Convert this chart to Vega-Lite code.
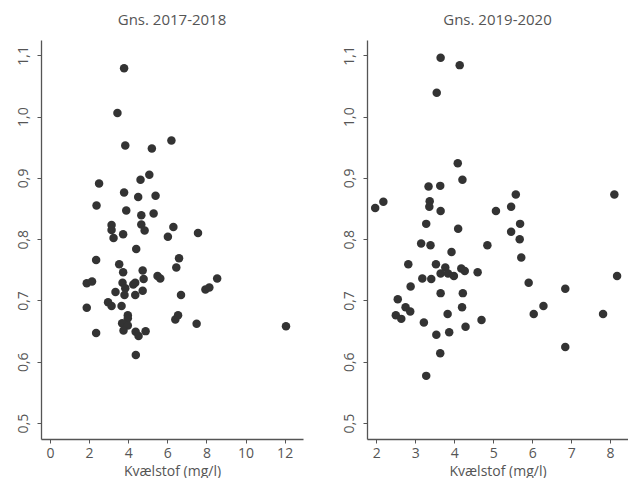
{
  "$schema": "https://vega.github.io/schema/vega-lite/v6.json",
  "padding": {"left": 16, "top": 13, "right": 0, "bottom": 0},
  "spacing": 39,
  "config": {
    "font": "Open Sans",
    "view": {"stroke": null},
    "axis": {
      "grid": false,
      "domainColor": "#555555",
      "domainWidth": 1.3,
      "tickColor": "#555555",
      "tickSize": 4,
      "labelColor": "#555555",
      "labelFontSize": 14,
      "labelPadding": 3,
      "titleColor": "#555555",
      "titleFontSize": 14,
      "titleFontWeight": "normal",
      "titlePadding": 4
    },
    "title": {"fontSize": 15, "fontWeight": "normal", "color": "#555555", "offset": 12}
  },
  "datasets": {
    "a": [
      {"n": 3.79, "v": 1.079}, {"n": 3.45, "v": 1.006}, {"n": 3.85, "v": 0.953}, {"n": 5.21, "v": 0.948},
      {"n": 6.21, "v": 0.961}, {"n": 5.08, "v": 0.905}, {"n": 4.63, "v": 0.897}, {"n": 2.51, "v": 0.891},
      {"n": 3.79, "v": 0.876}, {"n": 4.51, "v": 0.869}, {"n": 5.40, "v": 0.871}, {"n": 2.38, "v": 0.855},
      {"n": 3.90, "v": 0.847}, {"n": 4.67, "v": 0.839}, {"n": 5.30, "v": 0.842}, {"n": 3.15, "v": 0.823},
      {"n": 3.15, "v": 0.815}, {"n": 4.67, "v": 0.824}, {"n": 4.84, "v": 0.814}, {"n": 6.31, "v": 0.820},
      {"n": 3.74, "v": 0.808}, {"n": 3.25, "v": 0.802}, {"n": 6.03, "v": 0.804}, {"n": 7.57, "v": 0.810},
      {"n": 4.41, "v": 0.784}, {"n": 2.36, "v": 0.766}, {"n": 6.60, "v": 0.769}, {"n": 3.54, "v": 0.759},
      {"n": 6.46, "v": 0.754}, {"n": 4.74, "v": 0.749}, {"n": 3.74, "v": 0.746}, {"n": 5.50, "v": 0.740},
      {"n": 5.64, "v": 0.736}, {"n": 4.79, "v": 0.735}, {"n": 8.55, "v": 0.736}, {"n": 1.88, "v": 0.728},
      {"n": 2.15, "v": 0.731}, {"n": 3.71, "v": 0.729}, {"n": 4.26, "v": 0.726}, {"n": 4.36, "v": 0.729},
      {"n": 3.85, "v": 0.720}, {"n": 3.35, "v": 0.714}, {"n": 4.74, "v": 0.716}, {"n": 3.81, "v": 0.709},
      {"n": 4.36, "v": 0.709}, {"n": 6.70, "v": 0.709}, {"n": 7.95, "v": 0.718}, {"n": 8.15, "v": 0.721},
      {"n": 1.88, "v": 0.688}, {"n": 2.97, "v": 0.697}, {"n": 3.15, "v": 0.691}, {"n": 3.66, "v": 0.691},
      {"n": 3.98, "v": 0.676}, {"n": 3.98, "v": 0.671}, {"n": 3.69, "v": 0.663}, {"n": 3.98, "v": 0.659},
      {"n": 6.41, "v": 0.669}, {"n": 6.55, "v": 0.676}, {"n": 7.50, "v": 0.662}, {"n": 12.07, "v": 0.658},
      {"n": 2.36, "v": 0.647}, {"n": 3.76, "v": 0.651}, {"n": 4.38, "v": 0.649}, {"n": 4.53, "v": 0.642},
      {"n": 4.89, "v": 0.650}, {"n": 4.39, "v": 0.611}
    ],
    "b": [
      {"n": 3.65, "v": 1.096}, {"n": 4.14, "v": 1.084}, {"n": 3.55, "v": 1.039}, {"n": 4.09, "v": 0.924},
      {"n": 4.21, "v": 0.897}, {"n": 3.34, "v": 0.886}, {"n": 3.64, "v": 0.887}, {"n": 1.97, "v": 0.851},
      {"n": 2.18, "v": 0.861}, {"n": 3.37, "v": 0.862}, {"n": 3.36, "v": 0.853}, {"n": 3.65, "v": 0.846},
      {"n": 5.58, "v": 0.873}, {"n": 5.46, "v": 0.853}, {"n": 5.07, "v": 0.846}, {"n": 8.11, "v": 0.873},
      {"n": 3.28, "v": 0.825}, {"n": 4.10, "v": 0.817}, {"n": 5.69, "v": 0.825}, {"n": 5.46, "v": 0.812},
      {"n": 5.68, "v": 0.800}, {"n": 3.15, "v": 0.793}, {"n": 3.39, "v": 0.790}, {"n": 4.85, "v": 0.790},
      {"n": 3.93, "v": 0.779}, {"n": 5.72, "v": 0.770}, {"n": 2.82, "v": 0.759}, {"n": 3.53, "v": 0.759},
      {"n": 3.77, "v": 0.754}, {"n": 4.18, "v": 0.752}, {"n": 4.27, "v": 0.748}, {"n": 3.65, "v": 0.744},
      {"n": 3.84, "v": 0.744}, {"n": 3.99, "v": 0.740}, {"n": 4.60, "v": 0.746}, {"n": 3.18, "v": 0.736},
      {"n": 3.41, "v": 0.735}, {"n": 5.91, "v": 0.729}, {"n": 8.18, "v": 0.740}, {"n": 2.88, "v": 0.723},
      {"n": 6.85, "v": 0.719}, {"n": 2.55, "v": 0.702}, {"n": 3.65, "v": 0.712}, {"n": 4.22, "v": 0.712},
      {"n": 2.75, "v": 0.689}, {"n": 2.87, "v": 0.682}, {"n": 4.20, "v": 0.689}, {"n": 6.29, "v": 0.691},
      {"n": 2.50, "v": 0.676}, {"n": 2.64, "v": 0.670}, {"n": 3.83, "v": 0.678}, {"n": 6.04, "v": 0.678},
      {"n": 7.82, "v": 0.678}, {"n": 3.22, "v": 0.664}, {"n": 4.70, "v": 0.668}, {"n": 4.29, "v": 0.657},
      {"n": 3.54, "v": 0.644}, {"n": 3.87, "v": 0.648}, {"n": 3.64, "v": 0.614}, {"n": 6.85, "v": 0.624},
      {"n": 3.28, "v": 0.577}
    ]
  },
  "hconcat": [
    {
      "title": "Gns. 2017-2018",
      "width": 262,
      "height": 399,
      "data": {"name": "a"},
      "mark": {"type": "circle", "size": 72, "opacity": 1, "color": "#333333"},
      "encoding": {
        "x": {"field": "n", "type": "quantitative", "title": "Kvælstof (mg/l)",
              "scale": {"domain": [-0.46, 12.94], "nice": false, "zero": false},
              "axis": {"values": [0, 2, 4, 6, 8, 10, 12]}},
        "y": {"field": "v", "type": "quantitative", "title": null,
              "scale": {"domain": [0.474, 1.125], "nice": false, "zero": false},
              "axis": {"values": [0.5, 0.6, 0.7, 0.8, 0.9, 1.0, 1.1], "labelAngle": 270, "labelPadding": 7,
                       "labelExpr": "replace(format(datum.value, '.1f'), '.', ',')"}}
      }
    },
    {
      "title": "Gns. 2019-2020",
      "width": 261,
      "height": 399,
      "data": {"name": "b"},
      "mark": {"type": "circle", "size": 72, "opacity": 1, "color": "#333333"},
      "encoding": {
        "x": {"field": "n", "type": "quantitative", "title": "Kvælstof (mg/l)",
              "scale": {"domain": [1.76, 8.46], "nice": false, "zero": false},
              "axis": {"values": [2, 3, 4, 5, 6, 7, 8]}},
        "y": {"field": "v", "type": "quantitative", "title": null,
              "scale": {"domain": [0.474, 1.125], "nice": false, "zero": false},
              "axis": {"values": [0.5, 0.6, 0.7, 0.8, 0.9, 1.0, 1.1], "labelAngle": 270, "labelPadding": 7,
                       "labelExpr": "replace(format(datum.value, '.1f'), '.', ',')"}}
      }
    }
  ]
}
